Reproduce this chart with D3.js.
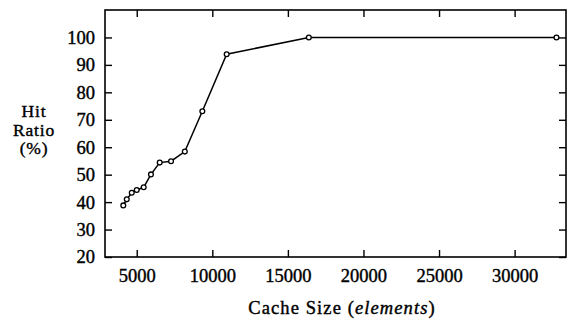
<!DOCTYPE html>
<html>
<head>
<meta charset="utf-8">
<script src="https://cdn.jsdelivr.net/npm/d3@7"></script>
<style>
  body { margin: 0; background: #fff; }
</style>
</head>
<body>
<svg id="chart" width="567" height="320"></svg>
<script>
// cache size (elements) vs hit ratio (%)
let cacheSizes = [4110, 4340, 4670, 5000, 5460, 5940, 6520, 7270, 8180, 9340, 10950, 16384, 32768];
let hitRatios  = [38.8, 41.0, 43.4, 44.4, 45.4, 50.1, 54.4, 54.9, 58.4, 73.1, 93.9, 100, 100];
let xTicks = [5000, 10000, 15000, 20000, 25000, 30000];
let yTicks = [20, 30, 40, 50, 60, 70, 80, 90, 100];
let yLabelLines = ["Hit", "Ratio", "(%)"];

let serif = "'Liberation Serif'";
let fontSize = 18.5;

let svg = d3.select('#chart');

let plotLeft = 105, plotRight = 566, plotTop = 10, plotBottom = 257;

let x = d3.scaleLinear().domain([2900, 33400]).range([plotLeft, plotRight]);
let y = d3.scaleLinear().domain([20, 110]).range([plotBottom, plotTop]);

let tickLen = 7;

// make text look like the heavier scanned TeX font
function inkText(sel) {
    sel.style('font-family', serif)
        .attr('font-size', fontSize)
        .attr('fill', '#000')
        .attr('stroke', '#000')
        .attr('stroke-width', 0.4);
}

function styleLabels(g) {
    g.select('.domain').remove();
    g.selectAll('text').call(inkText);
}

// bottom / top axes, ticks pointing inward
svg.append('g')
    .attr('transform', 'translate(0,' + plotBottom + ')')
    .call(d3.axisBottom(x).tickValues(xTicks).tickFormat(d3.format('d'))
        .tickSizeInner(-tickLen).tickSizeOuter(0).tickPadding(12))
    .call(styleLabels);

svg.append('g')
    .attr('transform', 'translate(0,' + plotTop + ')')
    .call(d3.axisTop(x).tickValues(xTicks).tickSizeInner(-tickLen).tickSizeOuter(0).tickFormat(''))
    .call(g => g.select('.domain').remove());

svg.append('g')
    .attr('transform', 'translate(' + plotLeft + ',0)')
    .call(d3.axisLeft(y).tickValues(yTicks).tickSizeInner(-tickLen).tickSizeOuter(0).tickPadding(10))
    .call(styleLabels);

svg.append('g')
    .attr('transform', 'translate(' + plotRight + ',0)')
    .call(d3.axisRight(y).tickValues(yTicks).tickSizeInner(-tickLen).tickSizeOuter(0).tickFormat(''))
    .call(g => g.select('.domain').remove());

svg.selectAll('.tick line').attr('stroke', '#000').attr('stroke-width', 1.4);

// frame
svg.append('rect')
    .attr('x', plotLeft).attr('y', plotTop)
    .attr('width', plotRight - plotLeft).attr('height', plotBottom - plotTop)
    .attr('fill', 'none').attr('stroke', '#000').attr('stroke-width', 1.6);

// data line
let line = d3.line()
    .x((d, i) => x(cacheSizes[i]))
    .y(d => y(d));

svg.append('path')
    .datum(hitRatios)
    .attr('d', line)
    .attr('fill', 'none')
    .attr('stroke', '#000')
    .attr('stroke-width', 1.5);

svg.selectAll('circle.pt')
    .data(hitRatios)
    .join('circle')
    .attr('class', 'pt')
    .attr('cx', (d, i) => x(cacheSizes[i]))
    .attr('cy', d => y(d))
    .attr('r', 2.4)
    .attr('fill', '#fff')
    .attr('stroke', '#000')
    .attr('stroke-width', 1.3);

// axis titles
let xTitle = svg.append('text')
    .attr('x', 342).attr('y', 314)
    .attr('text-anchor', 'middle')
    .attr('letter-spacing', 1.1)
    .call(inkText);
xTitle.append('tspan').text('Cache Size (');
xTitle.append('tspan').attr('font-style', 'italic').text('elements');
xTitle.append('tspan').text(')');

svg.append('g').selectAll('text')
    .data(yLabelLines)
    .join('text')
    .attr('x', 34)
    .attr('y', (d, i) => 117 + i * 18.5)
    .attr('text-anchor', 'middle')
    .attr('letter-spacing', 0.8)
    .call(inkText)
    .attr('font-size', 17.5)
    .text(d => d);
</script>
</body>
</html>
